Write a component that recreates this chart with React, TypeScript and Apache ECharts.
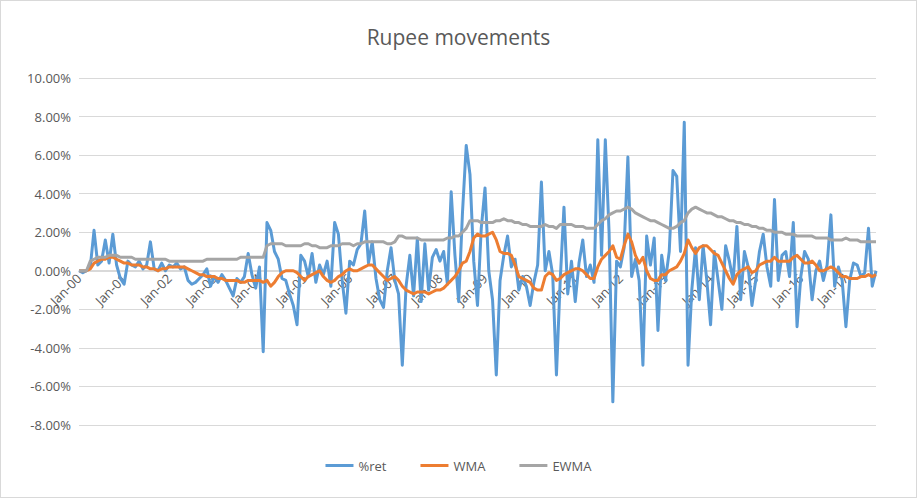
import React, { useEffect, useRef } from "react";
import * as echarts from "echarts";

const years = ["00","01","02","03","04","05","06","07","08","09","10","11","12","13","14","15","16","17"];
const months = ["Jan","Feb","Mar","Apr","May","Jun","Jul","Aug","Sep","Oct","Nov","Dec"];

const ret = [
  0, -0.1, 0, 0.2, 2.1, 0.3, 0.5, 1.6, 0.4, 1.9, 0.3, -0.4,
  -0.7, 0.5, 0.3, 0.2, 0.5, 0.1, 0.3, 1.5, 0.1, 0.0, 0.4, 0.0,
  0.3, 0.2, 0.4, 0.1, 0.2, -0.5, -0.7, -0.6, -0.4, -0.2, 0.1, -0.8,
  -0.3, -0.6, -0.2, -0.5, -0.9, -1.3, -0.4, -0.6, -0.3, 0.9, -0.2, -0.9,
  0.2, -4.2, 2.5, 2.1, 1.0, 0.6, -0.4, -0.5, -1.2, -1.8, -2.8, 0.8,
  0.5, -0.3, 0.9, -0.6, 0.3, -0.2, 0.5, -0.8, 2.5, 1.9, -0.5, -2.2,
  0.5, 0.3, 1.1, 1.4, 3.1, 0.4, 1.5, -0.4, -1.5, -1.9, 0.0, 1.2,
  -0.5, -1.2, -4.9, -0.8, 0.8, -1.3, 1.7, -1.6, 1.4, -1.0, 0.7, 1.1,
  0.5, 1.0, -0.7, 4.1, 0.8, -1.6, 3.0, 6.5, 5.0, 0.5, -1.8, 2.2,
  4.3, 0.0, -1.5, -5.4, -0.5, 0.8, 1.8, 0.2, 0.6, -1.0, -0.3, -0.8,
  -1.8, -0.6, 0.3, 4.6, 0.0, 1.0, -0.2, -5.4, -0.5, 3.3, -1.2, 0.5,
  -1.6, 0.4, 1.6, -0.3, 0.3, -0.6, 6.8, 0.8, 6.8, 2.0, -6.8, 0.5,
  0.2, 1.2, 5.9, -0.3, 0.6, -0.5, -4.9, 1.8, 0.3, 1.7, -3.1, 0.8,
  -0.5, 1.0, 5.2, 4.9, 1.0, 7.7, -4.9, -1.0, 1.2, -1.5, 1.3, -0.5,
  -2.8, 1.0, -0.5, -2.0, 1.3, 0.5, -0.5, 2.3, -1.5, 1.0, 0.2, -1.8,
  -0.5, 1.0, 1.9, 0.2, -0.8, 3.7, -0.5, 0.8, 1.0, -0.3, 2.5, -2.9,
  -0.3, 1.0, 0.6, -1.5, 0.0, 0.5, -0.5, 0.3, 2.9, -0.8, 0.2, -0.5,
  -2.9, -0.5, 0.4, 0.3, -0.3, -0.1, 2.2, -0.8, 0.0,
];

const wma = [
  0, 0, 0, 0.1, 0.4, 0.5, 0.6, 0.6, 0.7, 0.7, 0.6, 0.5,
  0.4, 0.4, 0.3, 0.3, 0.3, 0.2, 0.2, 0.1, 0.1, 0.0, 0.1, 0.1,
  0.2, 0.2, 0.2, 0.2, 0.2, 0.1, 0.0, -0.1, -0.2, -0.2, -0.3, -0.3,
  -0.3, -0.4, -0.4, -0.5, -0.5, -0.5, -0.5, -0.6, -0.6, -0.5, -0.5, -0.5,
  -0.5, -0.6, -0.5, -0.8, -0.6, -0.3, -0.1, 0.0, 0.0, 0.0, -0.1, -0.3,
  -0.5, -0.3, -0.2, -0.1, 0.0, -0.3, -0.5, -0.6, -0.5, -0.3, -0.2, 0.0,
  0.1, 0.0, 0.0, 0.1, 0.2, 0.3, 0.3, 0.1, -0.1, -0.3, -0.5, -0.4,
  -0.3, -0.5, -0.8, -1.0, -1.1, -1.2, -1.1, -1.1, -1.1, -1.2, -1.1, -1.0,
  -1.0, -0.9, -0.7, -0.5, -0.3, 0.0, 0.4, 0.5, 1.0, 1.7, 1.9, 1.8,
  1.8, 1.9, 2.0, 1.6, 1.0, 0.9, 0.9, 0.8, 0.3, -0.3, -0.4, -0.5,
  -0.6, -0.9, -1.0, -1.0, -0.3, -0.1, -0.2, -0.5, -0.4, -0.2, -0.1, 0.0,
  0.1, 0.1, 0.0, -0.2, -0.4, -0.4, 0.2, 0.6, 0.8, 1.0, 1.3, 0.7,
  0.6, 1.3, 1.9, 1.5, 0.8, 0.4, 0.7, 0.0, -0.4, -0.5, -0.5, -0.2,
  -0.2, 0.0, 0.1, 0.2, 0.5, 0.9, 1.6, 1.2, 0.9, 1.2, 1.3, 1.3,
  1.1, 0.9, 0.8, 0.4, 0.0, -0.4, -0.7, -0.2, 0.0, 0.1, 0.2, -0.1,
  0.0, 0.3, 0.4, 0.5, 0.5, 0.7, 0.5, 0.5, 0.5, 0.5, 0.7, 0.8,
  0.6, 0.4, 0.4, 0.5, 0.3, 0.0, 0.0, 0.1, 0.2, 0.1, -0.1, -0.3,
  -0.3, -0.4, -0.4, -0.4, -0.3, -0.3, -0.2, -0.3, -0.2,
];

const ewma = [
  0, 0, 0, 0.5, 0.6, 0.7, 0.7, 0.7, 0.8, 0.8, 0.8, 0.7,
  0.7, 0.7, 0.7, 0.6, 0.6, 0.6, 0.6, 0.6, 0.6, 0.6, 0.6, 0.6,
  0.5, 0.5, 0.5, 0.5, 0.5, 0.5, 0.5, 0.5, 0.5, 0.5, 0.6, 0.6,
  0.6, 0.6, 0.6, 0.6, 0.6, 0.6, 0.6, 0.7, 0.7, 0.7, 0.7, 0.7,
  0.7, 0.7, 1.3, 1.4, 1.4, 1.4, 1.4, 1.3, 1.3, 1.3, 1.3, 1.3,
  1.4, 1.4, 1.3, 1.3, 1.2, 1.2, 1.2, 1.3, 1.3, 1.3, 1.4, 1.4,
  1.4, 1.3, 1.4, 1.4, 1.5, 1.5, 1.5, 1.5, 1.5, 1.5, 1.4, 1.4,
  1.5, 1.8, 1.8, 1.7, 1.7, 1.7, 1.7, 1.6, 1.6, 1.6, 1.6, 1.6,
  1.6, 1.6, 1.7, 1.7, 1.8, 1.8, 2.0, 2.2, 2.6, 2.6, 2.6, 2.5,
  2.5, 2.5, 2.5, 2.6, 2.6, 2.7, 2.6, 2.6, 2.5, 2.5, 2.4, 2.4,
  2.3, 2.3, 2.3, 2.3, 2.4, 2.3, 2.3, 2.2, 2.4, 2.4, 2.4, 2.4,
  2.3, 2.3, 2.3, 2.2, 2.2, 2.2, 2.4, 2.6, 2.7, 2.9, 3.0, 3.1,
  3.1, 3.2, 3.3, 3.2, 3.0, 2.9, 2.8, 2.7, 2.6, 2.6, 2.5, 2.4,
  2.3, 2.2, 2.2, 2.3, 2.5, 2.6, 3.0, 3.2, 3.3, 3.2, 3.1, 3.0,
  3.0, 2.9, 2.8, 2.8, 2.7, 2.6, 2.6, 2.5, 2.5, 2.4, 2.4, 2.3,
  2.3, 2.2, 2.2, 2.1, 2.1, 2.0, 2.0, 2.0, 1.9, 1.9, 1.9, 1.8,
  1.8, 1.8, 1.8, 1.8, 1.7, 1.7, 1.7, 1.7, 1.6, 1.6, 1.6, 1.6,
  1.7, 1.6, 1.6, 1.6, 1.5, 1.5, 1.5, 1.5, 1.5,
];

const categories: string[] = [];
for (const y of years) for (const m of months) if (categories.length < ret.length) categories.push(`${m}-${y}`);

export default function App() {
  const ref = useRef<HTMLDivElement>(null);
  useEffect(() => {
    const chart = echarts.init(ref.current!, null, { renderer: "svg" });
    const line = (name: string, data: number[], color: string) => ({
      name, type: "line", data, showSymbol: false, symbol: "none",
      lineStyle: { color, width: 3, join: "round" }, itemStyle: { color },
    });
    chart.setOption({
      animation: false,
      textStyle: { fontFamily: "'Open Sans', Calibri, sans-serif" },
      title: {
        text: "Rupee movements", left: "center", top: 20,
        textStyle: { fontSize: 21, fontWeight: "normal", color: "#595959" },
      },
      legend: {
        bottom: 20, itemGap: 34, itemWidth: 28, itemHeight: 3,
        icon: "rect",
        textStyle: { color: "#595959", fontSize: 13 },
        data: ["%ret", "WMA", "EWMA"],
      },
      grid: { left: 78, right: 40, top: 77, bottom: 72 },
      xAxis: {
        type: "category", data: categories, boundaryGap: false,
        position: "bottom", offset: -155,
        axisLine: { onZero: false, show: true, lineStyle: { color: "#d9d9d9" } },
        axisTick: { show: false },
        axisLabel: { interval: 11, rotate: 45, color: "#595959", fontSize: 13, margin: 6 },
      },
      yAxis: {
        type: "value", min: -8, max: 10, interval: 2,
        axisLine: { show: false }, axisTick: { show: false },
        splitLine: { lineStyle: { color: "#d9d9d9" } },
        axisLabel: { formatter: (v: number) => v.toFixed(2) + "%", color: "#595959", fontSize: 13 },
      },
      series: [
        line("%ret", ret, "#5b9bd5"),
        line("WMA", wma, "#ed7d31"),
        line("EWMA", ewma, "#a5a5a5"),
      ],
    });
    return () => chart.dispose();
  }, []);
  return (
    <div style={{ position: "absolute", left: 0, top: 0, width: 917, height: 498, border: "1px solid #d9d9d9", boxSizing: "border-box", background: "#fff" }}>
      <div ref={ref} style={{ width: 915, height: 496 }} />
    </div>
  );
}
